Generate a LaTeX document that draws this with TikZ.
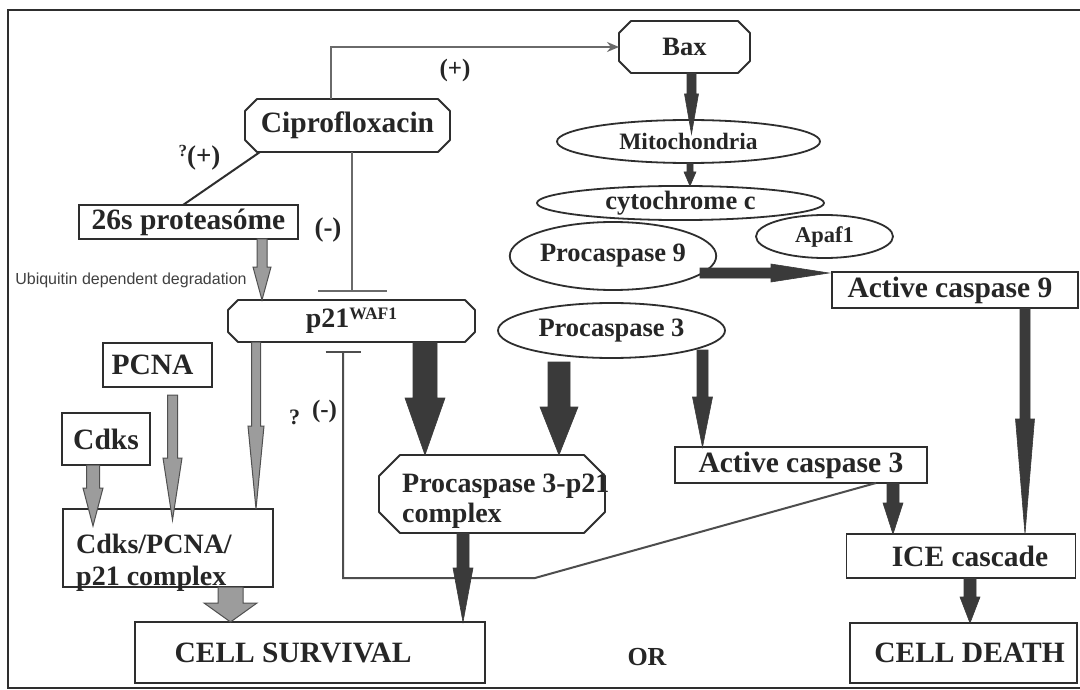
\documentclass[tikz,border=0pt]{standalone}
\usepackage{fontspec}
\setmainfont{Liberation Serif}
\newfontfamily\labelsans{Liberation Sans}
\usetikzlibrary{arrows.meta,calc,shapes.geometric}

\definecolor{ink}{HTML}{2E2E2E}
\definecolor{linkgray}{HTML}{6A6A6A}
\definecolor{darkfill}{HTML}{3A3A3A}
\definecolor{grayfill}{HTML}{9C9C9C}
\definecolor{grayedge}{HTML}{505050}

% bold serif at a given size
\newcommand\fs[1]{\fontsize{#1}{#1}\selectfont\bfseries}
\newcommand\fsl[2]{\fontsize{#1}{#2}\selectfont\bfseries}

% block arrow pointing down: style, start (gives x and top y), end (gives tip y),
% shaft half width, head half width, head length
\newcommand\downblock[6]{%
  \filldraw[#1] let \p1=(#2), \p2=(#3) in
    (\x1-#4,\y1) -- (\x1-#4,\y2+#6) -- (\x1-#5,\y2+#6) -- (\x1,\y2)
    -- (\x1+#5,\y2+#6) -- (\x1+#4,\y2+#6) -- (\x1+#4,\y1) -- cycle;}

% block arrow pointing right: style, start (gives y and left x), end (gives tip x), ...
\newcommand\rightblock[6]{%
  \filldraw[#1] let \p1=(#2), \p2=(#3) in
    (\x1,\y1+#4) -- (\x2-#6,\y1+#4) -- (\x2-#6,\y1+#5) -- (\x2,\y1)
    -- (\x2-#6,\y1-#5) -- (\x2-#6,\y1-#4) -- (\x1,\y1-#4) -- cycle;}

% octagonal outline around a node: node name, chamfer size
\newcommand\octoutline[2]{%
  \draw[boxline, line join=round] ([xshift=#2]#1.north west) -- ([xshift=-#2]#1.north east)
    -- ([yshift=-#2]#1.north east) -- ([yshift=#2]#1.south east)
    -- ([xshift=-#2]#1.south east) -- ([xshift=#2]#1.south west)
    -- ([yshift=#2]#1.south west) -- ([yshift=-#2]#1.north west) -- cycle;}

\tikzset{
  boxline/.style={draw=ink, line width=1.8pt},
  box/.style={rectangle, boxline, fill=white, inner sep=0pt, outer sep=0pt,
    text=black!85, font=\fs{29.5}},
  octnode/.style={rectangle, inner sep=0pt, outer sep=0pt, text=black!85, font=\fs{29.5}},
  ell/.style={ellipse, boxline, inner sep=0pt, outer sep=0pt, text=black!85, font=\fs{26.5}},
  txt/.style={inner sep=0pt, text=black!85, font=\fs{26}},
  link/.style={draw=linkgray, line width=2pt},
  darkarrow/.style={fill=darkfill, draw=darkfill, line width=0.6pt},
  grayarrow/.style={fill=grayfill, draw=grayedge, line width=1pt},
}

\begin{document}
\begin{tikzpicture}[x=1pt, y=-1pt]
\useasboundingbox (0,0) rectangle (1080,690);
\fill[white] (0,0) rectangle (1080,690);

% frame
\draw[draw=ink, line width=2.5pt] (1090,10) -- (8,10) -- (8,688) -- (1090,688);

% --- nodes ---
\node[octnode, minimum width=131, minimum height=52, font=\fs{26.5}] (bax) at (684.5,47) {Bax};
\node[octnode, minimum width=205, minimum height=53] (cipro) at (347.5,125.5) {Ciprofloxacin};
\node[box, minimum width=219, minimum height=34] (prot) at (188.5,222) {26s proteasóme};
\node[octnode, minimum width=247, minimum height=42, font=\fs{28}] (p21) at (351.5,321)
  {p21\raisebox{8pt}{\fontsize{17.5}{17.5}\selectfont WAF1}};

\node[ell, minimum width=263, minimum height=43, font=\fs{23.5}] (mito) at (688.5,141.5) {Mitochondria};
\node[ell, minimum width=287, minimum height=30] (cyto) at (680.5,203) {cytochrome c};
\node[ell, minimum width=137, minimum height=43, font=\fs{22.5}] (apaf) at (824.5,236.5) {\raisebox{-4pt}{Apaf1}};
\node[ell, minimum width=192, minimum height=68] (pc9) at (613,256) {Procaspase 9};
\node[ell, minimum width=227, minimum height=55] (pc3) at (611.5,330.5) {Procaspase 3};

\node[box, minimum width=246, minimum height=36] (ac9) at (955,290) {\hspace*{-10pt}Active caspase 9};
\node[box, minimum width=252, minimum height=36] (ac3) at (801,465) {Active caspase 3};
\node[octnode, minimum width=226, minimum height=78] (pc3p21) at (492,494) {};
\node[box, minimum width=229, minimum height=44] (ice) at (961,556) {\hspace*{18pt}ICE cascade};
\node[box, minimum width=227, minimum height=60] (death) at (963.5,653) {\hspace*{12pt}CELL DEATH};
\node[box, minimum width=350, minimum height=61] (surv) at (310,652.5) {\hspace*{-34pt}CELL SURVIVAL};

\node[box, minimum width=109, minimum height=44] (pcna) at (157.5,365) {\hspace*{-10pt}PCNA};
\node[box, minimum width=88, minimum height=52] (cdks) at (106,439) {Cdks};
\node[box, minimum width=210, minimum height=78] (cpx) at (168,548) {};

% texts of the two-line boxes
\node[txt, anchor=north west, align=left, font=\fsl{28}{29.5}] (pc3p21text) at (402,474)
  {Procaspase 3-p21\\complex};
\node[txt, anchor=north west, align=left, font=\fsl{28}{32}] (cpxtext) at (76,534)
  {Cdks/PCNA/\\p21 complex};

% octagonal outlines
\octoutline{bax}{12pt}
\octoutline{cipro}{12pt}
\octoutline{p21}{10pt}
\octoutline{pc3p21}{21pt}

% labels
\node[txt, font=\fs{25}] (plustop) at (455,70) {(+)};
\node[txt, anchor=base, font=\fs{27}] (qplus) at (199.5,165)
  {\raisebox{9pt}{\fontsize{17}{17}\selectfont ?}(+)};
\node[txt, font=\fs{27}] (minustop) at (328,230) {(-)};
\node[txt, anchor=base, font=\fs{22}] (qminus) at (313,424)
  {?\hspace{12pt}\raisebox{7pt}{\fontsize{25}{25}\selectfont (-)}};
\node[txt] (or) at (647,657) {OR};
\node[inner sep=0pt, text=black!75, font=\fontsize{16}{16}\selectfont\labelsans] (ubiq) at (131,280)
  {Ubiquitin dependent degradation};

% --- thin connectors ---
\draw[link, -{Stealth[length=12pt,width=10pt]}] ([xshift=-16.5pt]cipro.north) |- (bax.west);
\draw[link, draw=ink] ([xshift=15pt]cipro.south west) -- ([xshift=-5.5pt]prot.north);
\draw[link, -{Bar[width=69pt]}] ([xshift=4.5pt]cipro.south) -- ([xshift=0.5pt, yshift=8pt]p21.north);
\coordinate (kink) at (535,578);
\draw[link, draw=ink!85, -{Bar[width=35pt]}] ([xshift=75pt]ac3.south) -- (kink)
  -| ([xshift=-8.5pt, yshift=-9pt]p21.south);

% --- gray block arrows ---
\downblock{grayarrow}{[xshift=73.5pt]prot.south}{p21.north}{5pt}{9pt}{33pt}
\downblock{grayarrow}{[xshift=15pt, yshift=-8pt]pcna.south}{[yshift=-11pt]cpx.north}{5pt}{9.5pt}{62pt}
\downblock{grayarrow}{[xshift=-13pt]cdks.south}{[yshift=-17pt]cpx.north}{6.5pt}{10pt}{38pt}
\downblock{grayarrow}{[xshift=-95.5pt]p21.south}{cpx.north}{4.5pt}{8pt}{83pt}
\downblock{grayarrow}{[xshift=62.5pt]cpx.south}{surv.north}{12.5pt}{26.5pt}{19pt}

% --- dark block arrows ---
\downblock{darkarrow}{[xshift=7pt]bax.south}{[yshift=-14pt]mito.north}{4.5pt}{7pt}{40pt}
\downblock{darkarrow}{[xshift=1.5pt]mito.south}{cyto.north}{3pt}{6pt}{14pt}
\rightblock{darkarrow}{[xshift=87pt, yshift=-17pt]pc9.center}{[xshift=-3pt]ac9.west}{5pt}{9pt}{58pt}
\downblock{darkarrow}{[xshift=73.5pt]p21.south}{pc3p21.north}{12pt}{20pt}{57pt}
\downblock{darkarrow}{[xshift=-52.5pt, yshift=-4pt]pc3.south}{pc3p21.north}{11pt}{19pt}{48pt}
\downblock{darkarrow}{[xshift=91pt, yshift=8pt]pc3.south}{ac3.north}{5.5pt}{10pt}{50pt}
\downblock{darkarrow}{[xshift=70pt]ac9.south}{ice.north}{5pt}{9.5pt}{115pt}
\downblock{darkarrow}{[xshift=92pt]ac3.south}{ice.north}{6pt}{10pt}{31pt}
\downblock{darkarrow}{[xshift=9pt]ice.south}{death.north}{6pt}{10pt}{26pt}
\downblock{darkarrow}{[xshift=-29pt]pc3p21.south}{surv.north}{6pt}{10pt}{54pt}
\end{tikzpicture}
\end{document}
